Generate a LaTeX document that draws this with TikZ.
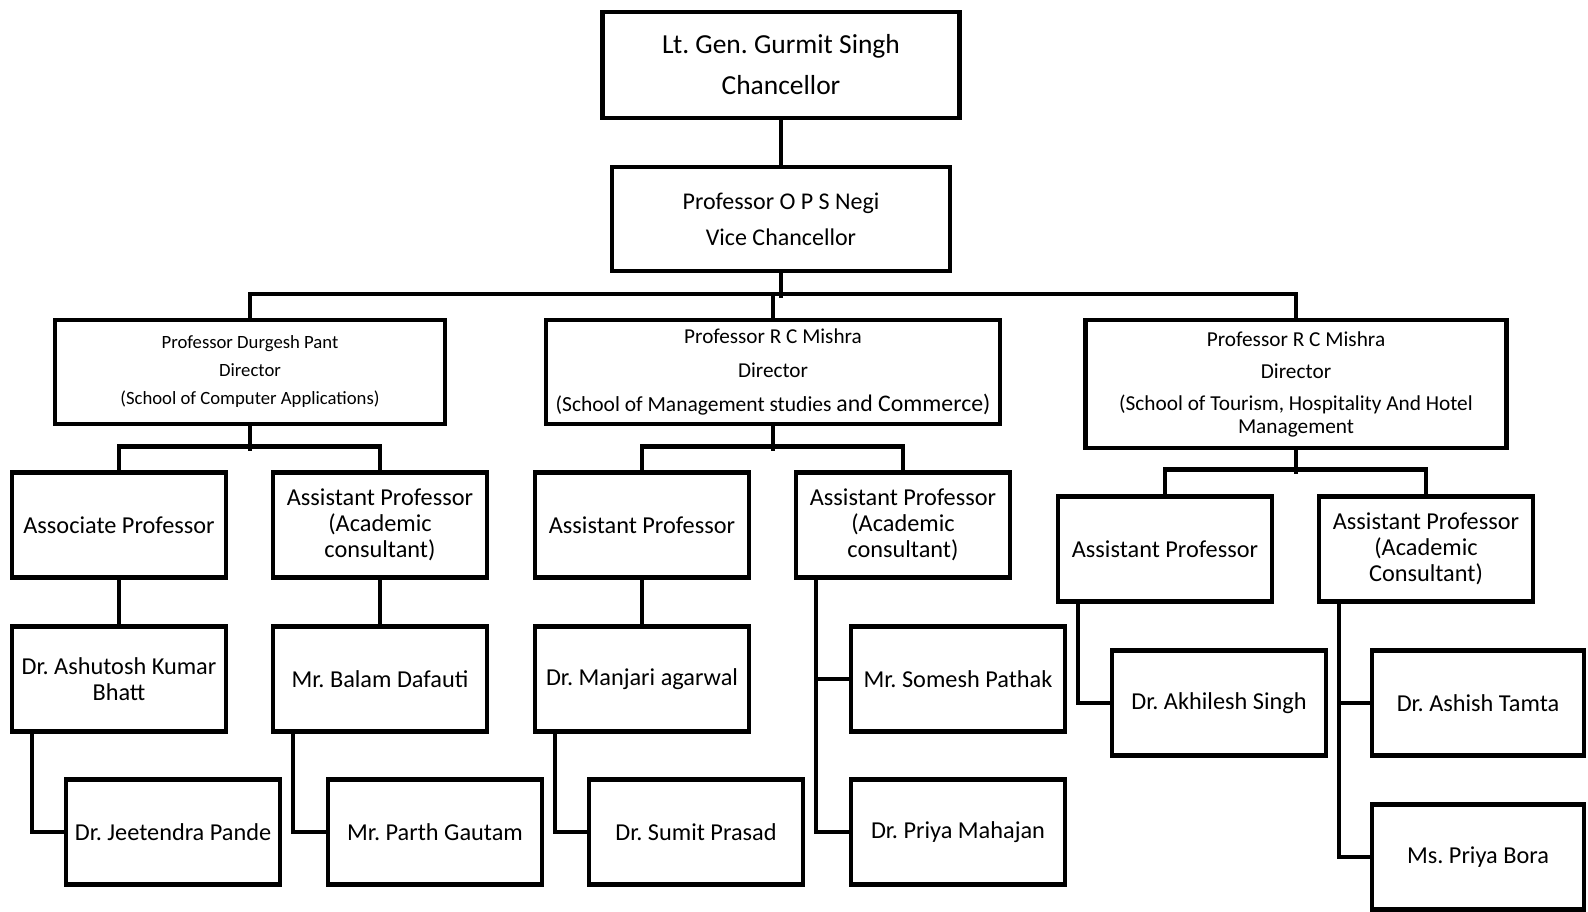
\documentclass[tikz,border=0pt]{standalone}
\usepackage{fontspec}
\setmainfont{Carlito}
\frenchspacing
\begin{document}
\begin{tikzpicture}[x=1pt,y=-1pt,line width=4.5pt,
    box/.style={draw,rectangle,minimum width=214pt,minimum height=105pt,
      align=center,inner sep=2pt,font=\fontsize{24.3}{26}\selectfont},
    head/.style={box,minimum height=104pt}]
  \useasboundingbox (0,0) rectangle (1588,912);
  \node[head,minimum width=357pt,minimum height=106pt,font=\fontsize{27.5}{41}\selectfont]
    (chan) at (781,65) {Lt. Gen. Gurmit Singh\\Chancellor};
  \node[head,minimum width=338pt,font=\fontsize{24}{36}\selectfont]
    (vc) at (781,219) {Professor O P S Negi\\Vice Chancellor};
  \node[head,minimum width=390pt,font=\fontsize{18.7}{28}\selectfont]
    (dir1) at (250,372) {Professor Durgesh Pant\\Director\\(School of Computer Applications)};
  \node[head,minimum width=454pt,font=\fontsize{21.2}{34}\selectfont]
    (dir2) at (773,372) {Professor R C Mishra\\Director\\{\fontsize{21.5}{34}\selectfont(School of Management studies} {\fontsize{23.8}{34}\selectfont and Commerce)}};
  \node[head,minimum width=421pt,minimum height=128pt,font=\fontsize{21.3}{32}\selectfont]
    (dir3) at (1296,384) {Professor R C Mishra\\Director\\(School of Tourism, Hospitality And Hotel\\[-9pt]Management};
  \node[box] (assoc) at (119,525) {Associate Professor};
  \node[box] (acadA) at (380,525) {Assistant Professor\\(Academic\\consultant)};
  \node[box] (asstB) at (642,525) {Assistant Professor};
  \node[box] (acadB) at (903,525) {Assistant Professor\\(Academic\\consultant)};
  \node[box] (asstC) at (1165,549) {Assistant Professor};
  \node[box] (acadC) at (1426,549) {Assistant Professor\\(Academic\\Consultant)};
  \node[box] (ashutosh) at (119,679) {Dr. Ashutosh Kumar\\Bhatt};
  \node[box] (balam) at (380,679) {Mr. Balam Dafauti};
  \node[box] (manjari) at (642,679) {Dr. Manjari agarwal};
  \node[box] (somesh) at (958,679) {Mr. Somesh Pathak};
  \node[box] (jeetendra) at (173,832) {Dr. Jeetendra Pande};
  \node[box] (parth) at (435,832) {Mr. Parth Gautam};
  \node[box] (sumit) at (696,832) {Dr. Sumit Prasad};
  \node[box] (mahajan) at (958,832) {Dr. Priya Mahajan};
  \node[box] (akhilesh) at (1219,703) {Dr. Akhilesh Singh};
  \node[box,minimum width=212pt] (tamta) at (1478,703) {Dr. Ashish Tamta};
  \node[box,minimum width=212pt] (bora) at (1478,857) {Ms. Priya Bora};

  \draw (chan) -- (vc);
  \draw (vc.south) -- ++(0,25);
  \draw (dir1.north) -- ++(0,-24) -| (dir3.north);
  \draw (dir2.north) -- ++(0,-24);
  \draw (dir1.south) -- ++(0,25);
  \draw (assoc.north) -- ++(0,-24) -| (acadA.north);
  \draw (dir2.south) -- ++(0,25);
  \draw (asstB.north) -- ++(0,-24) -| (acadB.north);
  \draw (dir3.south) -- ++(0,24);
  \draw (asstC.north) -- ++(0,-25) -| (acadC.north);
  \draw (assoc) -- (ashutosh);
  \draw (acadA) -- (balam);
  \draw (asstB) -- (manjari);
  \draw ([xshift=22pt]ashutosh.south west) |- (jeetendra.west);
  \draw ([xshift=22pt]balam.south west) |- (parth.west);
  \draw ([xshift=22pt]manjari.south west) |- (sumit.west);
  \draw ([xshift=22pt]acadB.south west) |- (mahajan.west);
  \draw ([xshift=22pt]acadB.south west) |- (somesh.west);
  \draw ([xshift=22pt]asstC.south west) |- (akhilesh.west);
  \draw ([xshift=22pt]acadC.south west) |- (bora.west);
  \draw ([xshift=22pt]acadC.south west) |- (tamta.west);
\end{tikzpicture}
\end{document}
